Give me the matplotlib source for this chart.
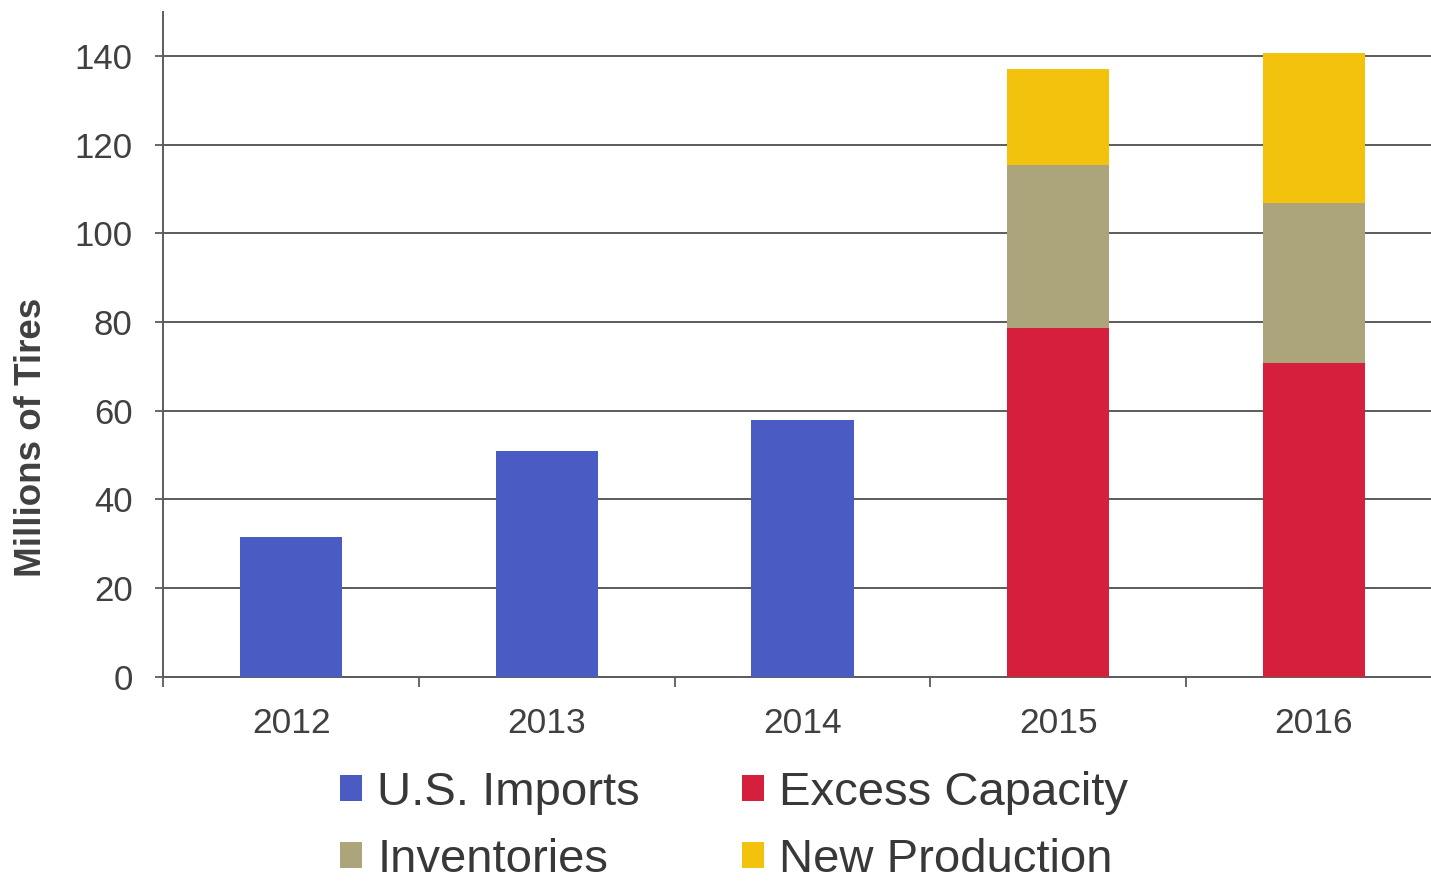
import numpy as np
import matplotlib.pyplot as plt
from matplotlib.ticker import FixedLocator

plt.rcParams['font.family'] = ['Liberation Sans', 'DejaVu Sans']

# Data (millions of tires)
years = ['2012', '2013', '2014', '2015', '2016']
us_imports = [31.6, 50.9, 57.9, 0, 0]
excess_capacity = [0, 0, 0, 78.6, 70.7]
inventories = [0, 0, 0, 36.9, 36.2]
new_production = [0, 0, 0, 21.5, 33.8]

colors = {
    'U.S. Imports': '#4a5cc4',
    'Excess Capacity': '#d61f3c',
    'Inventories': '#aca47b',
    'New Production': '#f3c20c',
}
text_color = '#404040'
line_color = '#5c5c5c'

fig = plt.figure(figsize=(14.31, 8.82), dpi=100)
ax = fig.add_axes([0.1141, 0.2328, 0.8934, 0.754])

x = np.arange(len(years))
w = 0.4

imp = np.array(us_imports)
exc = np.array(excess_capacity)
inv = np.array(inventories)
new = np.array(new_production)

h_imp = ax.bar(x[imp > 0], imp[imp > 0], w, color=colors['U.S. Imports'], zorder=3)
h_exc = ax.bar(x[exc > 0], exc[exc > 0], w, color=colors['Excess Capacity'], zorder=3)
h_inv = ax.bar(x[inv > 0], inv[inv > 0], w, bottom=exc[inv > 0],
               color=colors['Inventories'], zorder=3)
h_new = ax.bar(x[new > 0], new[new > 0], w, bottom=(exc + inv)[new > 0],
               color=colors['New Production'], zorder=3)

ax.set_xlim(-0.5, 4.5)
ax.set_ylim(0, 150)
ax.set_yticks(np.arange(0, 141, 20))
ax.yaxis.grid(True, color=line_color, linewidth=1.4, zorder=0)
ax.set_axisbelow(True)

ax.set_xticks(x)
ax.set_xticklabels(years)
ax.xaxis.set_minor_locator(FixedLocator(np.arange(-0.5, 5, 1)))
ax.tick_params(axis='x', which='major', length=0, pad=22, labelsize=25.5,
               labelcolor=text_color)
ax.tick_params(axis='x', which='minor', length=7, width=1.3, color=line_color)
ax.tick_params(axis='y', length=6, width=1.3, color=line_color, pad=16,
               labelsize=25, labelcolor=text_color)

for side in ['top', 'right']:
    ax.spines[side].set_visible(False)
for side in ['left', 'bottom']:
    ax.spines[side].set_color(line_color)
    ax.spines[side].set_linewidth(1.4)

fig.text(32 / 1431, 1 - 437 / 882, 'Millions of Tires', rotation=90,
         ha='center', va='center', fontsize=26.5, fontweight='bold',
         color=text_color)

handles = [h_imp, h_inv, h_exc, h_new]
labels = ['U.S. Imports', 'Inventories', 'Excess Capacity', 'New Production']
fig.legend(handles, labels, ncol=2, loc='upper left',
           bbox_to_anchor=(340 / 1431, 1 - 771 / 882), frameon=False,
           fontsize=34, handlelength=0.47, handleheight=0.47,
           handletextpad=0.32, columnspacing=2.16, labelspacing=0.48,
           borderpad=0, borderaxespad=0, labelcolor='#383838')

fig.savefig('out.png', dpi=100)
